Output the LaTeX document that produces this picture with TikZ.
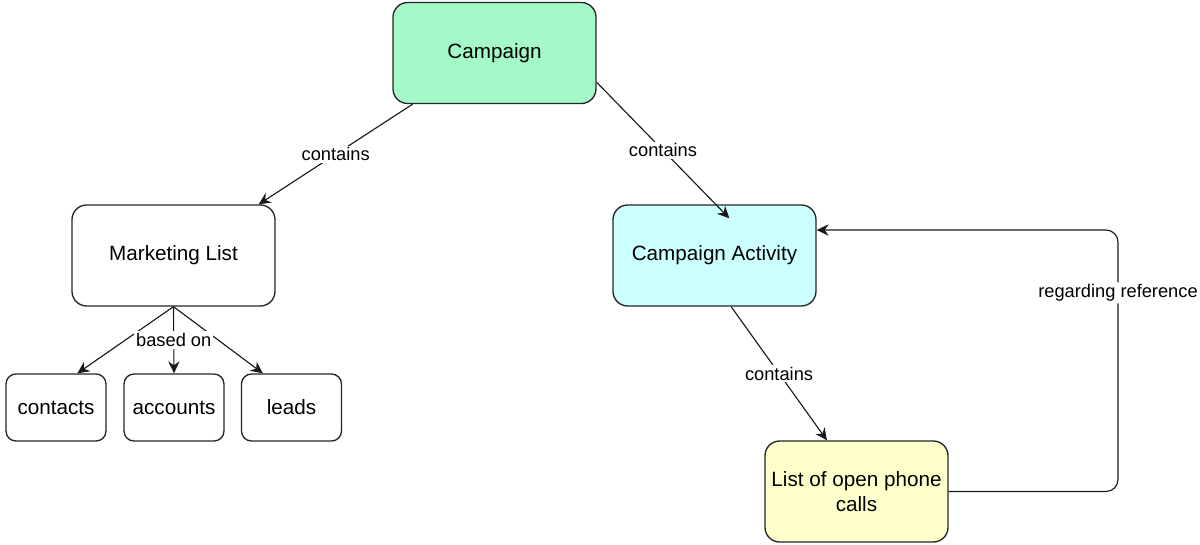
\documentclass[tikz,border=0pt]{standalone}
\usepackage{fontspec}
\setmainfont{Liberation Sans}
\usetikzlibrary{arrows.meta,calc}
\definecolor{campgreen}{RGB}{163,250,200}
\definecolor{actcyan}{RGB}{204,255,255}
\definecolor{callyellow}{RGB}{255,255,204}
\tikzset{
  box/.style={draw=black!85, line width=1pt, rounded corners=11pt, inner sep=0pt,
    minimum width=152.25pt, minimum height=75.75pt, align=center,
    font=\fontsize{15.5}{19}\selectfont},
  smallbox/.style={box, rounded corners=7.5pt, minimum width=75pt, minimum height=50.25pt},
  link/.style={draw=black!90, line width=0.85pt, -{Stealth[length=9pt,width=8.5pt,inset=3pt]}},
  lbl/.style={fill=white, inner sep=1.5pt, font=\fontsize{13.7}{16}\selectfont}
}
\begin{document}
\begin{tikzpicture}[x=0.75pt, y=-0.75pt]
        \useasboundingbox (0,0) rectangle (1200,544);
        % Boxes
        \node[box, fill=campgreen] (camp) at (494.5,53) {Campaign};
        \node[box, fill=white] (ml) at (173.5,255.5) {Marketing List};
        \node[box, fill=actcyan] (ca) at (714.5,255.5) {Campaign Activity};
        \node[box, fill=callyellow, minimum width=137.25pt] (calls) at (856.5,491.5) {List of open phone\\calls};
        % Members of the marketing list
        \node[smallbox] (contacts) at (56,407.5) {contacts};
        \node[smallbox] (accounts) at (174,407.5) {accounts};
        \node[smallbox] (leads) at (291.5,407.5) {leads};
        % Links
        \draw[link] (camp.212) -- node[lbl] {contains} (ml.31);
        \draw[link] (camp.-16) -- node[lbl] {contains} ($(ca.north west)+(117,14)$);
        \draw[link] (ml.south) -- (contacts.58);
        \draw[link] (ml.south) -- (leads.130);
        \draw[link] (ml.south) -- node[lbl] {based on} (accounts.north);
        \draw[link] (ca.-72) -- node[lbl] {contains} (calls.120);
        % Reference back to the activity
        \coordinate (turn) at (1118,230);
        \draw[link, rounded corners=9pt] (calls.east) -| node[lbl, pos=0.88] {regarding reference} (turn)
            -- ($(ca.east)+(0,-25.5)$);
    \end{tikzpicture}
\end{document}
